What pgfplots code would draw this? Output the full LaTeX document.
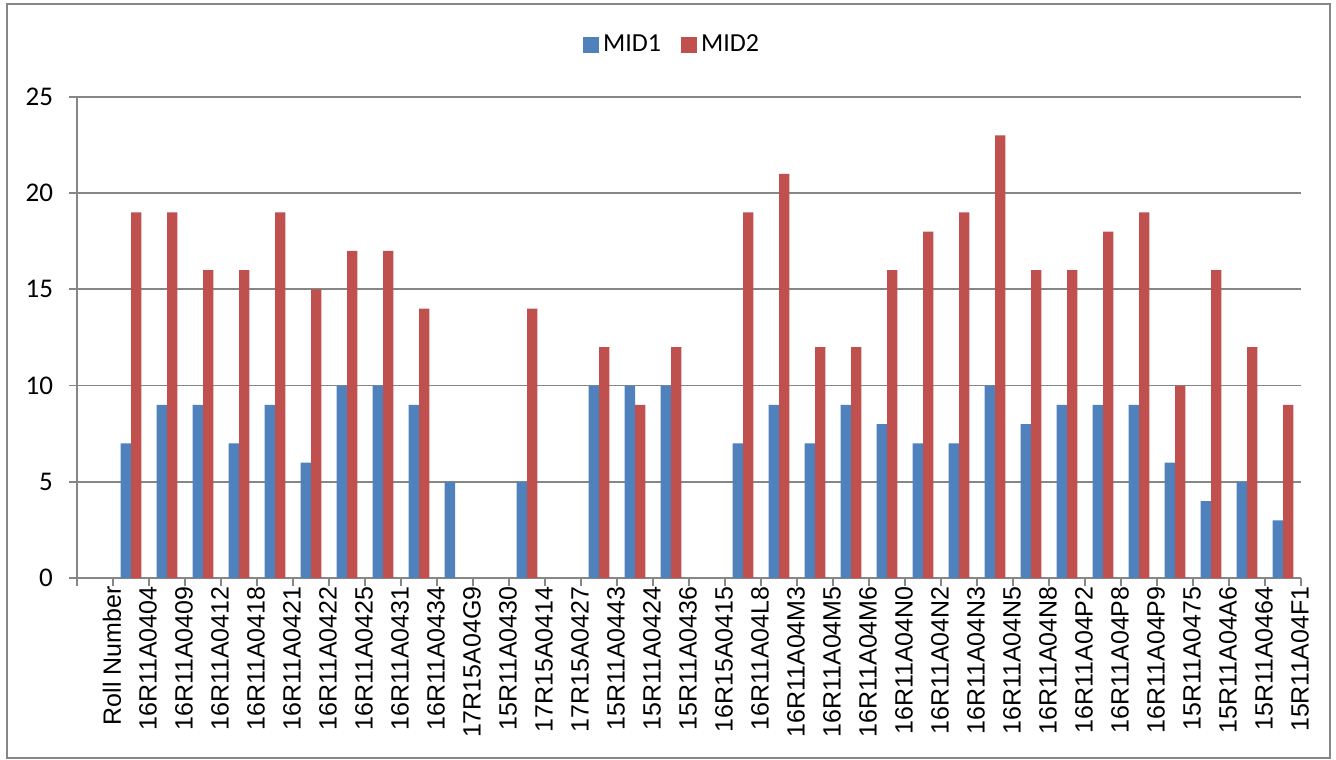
\documentclass[border=0pt]{standalone}
\usepackage{pgfplots}
\pgfplotsset{compat=1.18}
\usepackage{fontspec}
\setmainfont{Liberation Sans}
\newfontfamily\calibri{Carlito}
\definecolor{bblue}{HTML}{4F81BD}
\definecolor{bred}{HTML}{C0504D}
\definecolor{axgray}{HTML}{868686}

\begin{document}
\begin{tikzpicture}[x=1pt,y=1pt]
\useasboundingbox (-38.5,-90.5) rectangle (629.5,289);
\draw[axgray, line width=1pt] (-35,-90) rectangle (626.5,287);
\begin{axis}[
    at={(0,0)}, anchor=south west,
    width=612pt, height=240.5pt, scale only axis,
    ybar=0pt, bar width=5.15pt,
    xmin=-0.5, xmax=33.5, ymin=0, ymax=25,
    axis lines*=left,
    axis line style={axgray, line width=0.9pt},
    ytick={0,5,...,25},
    ymajorgrids, grid style={axgray, line width=0.9pt},
    tick align=outside,
    major tick length=4pt,
    minor tick length=4pt,
    tick style={axgray, line width=0.9pt},
    /pgf/number format/assume math mode=true,
    yticklabel style={font=\calibri\fontsize{13.5}{16}\selectfont, xshift=-4.5pt},
    xtick={0,...,33},
    major x tick style={draw=none},
    minor xtick={-0.5,0.5,...,33.5},
    xticklabels={Roll Number,16R11A0404,16R11A0409,16R11A0412,16R11A0418,16R11A0421,16R11A0422,16R11A0425,16R11A0431,16R11A0434,17R15A04G9,15R11A0430,17R15A0414,17R15A0427,15R11A0443,15R11A0424,15R11A0436,16R15A0415,16R11A04L8,16R11A04M3,16R11A04M5,16R11A04M6,16R11A04N0,16R11A04N2,16R11A04N3,16R11A04N5,16R11A04N8,16R11A04P2,16R11A04P8,16R11A04P9,15R11A0475,15R11A04A6,15R11A0464,15R11A04F1},
    xticklabel style={rotate=90, anchor=east, font=\fontsize{12.5}{14}\selectfont, inner sep=0pt, yshift=-8.5pt},
    legend columns=2,
    legend style={at={(0.487,1.108)}, anchor=center, draw=none,
        font=\calibri\fontsize{13}{15}\selectfont,
        /tikz/every even column/.append style={column sep=8pt}},
    legend image code/.code={\fill[#1, draw=none] (0pt,-4pt) rectangle (8pt,4pt);},
]
\addplot[fill=bblue, draw=none] coordinates {
(1,7) (2,9) (3,9) (4,7) (5,9) (6,6) (7,10) (8,10) (9,9) (10,5)
(12,5) (14,10) (15,10) (16,10)
(18,7) (19,9) (20,7) (21,9) (22,8) (23,7) (24,7) (25,10) (26,8)
(27,9) (28,9) (29,9) (30,6) (31,4) (32,5) (33,3)};
\addplot[fill=bred, draw=none] coordinates {
(1,19) (2,19) (3,16) (4,16) (5,19) (6,15) (7,17) (8,17) (9,14)
(12,14) (14,12) (15,9) (16,12)
(18,19) (19,21) (20,12) (21,12) (22,16) (23,18) (24,19) (25,23) (26,16)
(27,16) (28,18) (29,19) (30,10) (31,16) (32,12) (33,9)};
\legend{MID1,MID2}
\end{axis}
\end{tikzpicture}
\end{document}
